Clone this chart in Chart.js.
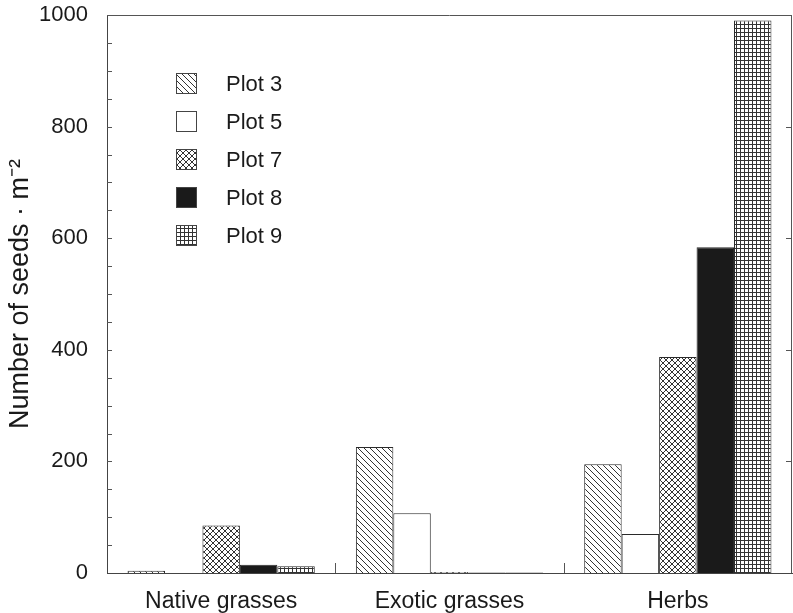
<!DOCTYPE html>
<html>
<head>
<meta charset="utf-8">
<script src="https://cdn.jsdelivr.net/npm/chart.js@4/dist/chart.umd.min.js"></script>
<style>
  html, body { margin: 0; padding: 0; background: #fff; }
  #wrap { width: 793px; height: 613px; }
</style>
</head>
<body>
<div id="wrap"><canvas id="seedChart" width="793" height="613"></canvas></div>
<script>
// Categories and series
const categories = ['Native grasses', 'Exotic grasses', 'Herbs'];
const plot3 = [4, 226, 195];
const plot5 = [0, 107, 70];
const plot7 = [85, 2, 387];
const plot8 = [15, 1, 584];
const plot9 = [12, 1, 990];
const yTicks = [0, 200, 400, 600, 800, 1000];

const INK = '#2a2a2a';
const FONT = '"Liberation Sans", Arial, sans-serif';

// Hatch patterns for the black & white fills
function makePattern(kind) {
    const c = document.createElement('canvas');
    const size = kind === 'grid' ? 4 : 6;
    c.width = size; c.height = size;
    const g = c.getContext('2d');
    g.fillStyle = '#fff';
    g.fillRect(0, 0, size, size);
    g.strokeStyle = '#333';
    g.lineWidth = 1;
    g.beginPath();
    if (kind === 'back' || kind === 'cross') {
        g.moveTo(-1, -1); g.lineTo(size + 1, size + 1);
        g.moveTo(-1, size - 1); g.lineTo(1, size + 1);
        g.moveTo(size - 1, -1); g.lineTo(size + 1, 1);
    }
    if (kind === 'cross') {
        g.moveTo(-1, size + 1); g.lineTo(size + 1, -1);
        g.moveTo(-1, 1); g.lineTo(1, -1);
        g.moveTo(size - 1, size + 1); g.lineTo(size + 1, size - 1);
    }
    if (kind === 'grid') {
        g.moveTo(0.5, 0); g.lineTo(0.5, size);
        g.moveTo(0, 0.5); g.lineTo(size, 0.5);
    }
    g.stroke();
    return g.createPattern(c, 'repeat');
}

const fills = {
    p3: makePattern('back'),
    p5: '#ffffff',
    p7: makePattern('cross'),
    p8: '#1a1a1a',
    p9: makePattern('grid')
};

function ds(label, data, fill) {
    return {
        label: label,
        data: data,
        backgroundColor: fill,
        borderColor: INK,
        borderWidth: 1,
        borderSkipped: 'bottom'
    };
}

// Frame, inward ticks, category separators and the legend inside the plot
const decorations = {
    id: 'decorations',
    afterDraw(chart) {
        const ctx = chart.ctx;
        const a = chart.chartArea;
        const y = chart.scales.y;
        const x = chart.scales.x;
        ctx.save();
        ctx.strokeStyle = '#555';
        ctx.lineWidth = 1;
        ctx.beginPath();
        ctx.moveTo(a.left, a.top + 0.5); ctx.lineTo(a.right, a.top + 0.5);
        ctx.moveTo(a.right - 0.5, a.top); ctx.lineTo(a.right - 0.5, a.bottom);
        // minor + major ticks on left axis
        for (let v = 50; v < 1000; v += 50) {
            const py = Math.round(y.getPixelForValue(v)) + 0.5;
            ctx.moveTo(a.left, py); ctx.lineTo(a.left + 5, py);
        }
        // right axis ticks
        yTicks.slice(1, -1).forEach(v => {
            const py = Math.round(y.getPixelForValue(v)) + 0.5;
            ctx.moveTo(a.right, py); ctx.lineTo(a.right - 6, py);
        });
        // category separators
        for (let i = 0; i < categories.length - 1; i++) {
            const px = Math.round(x.getPixelForValue(i + 0.5)) + 0.5;
            ctx.moveTo(px, a.bottom); ctx.lineTo(px, a.bottom - 10);
        }
        ctx.stroke();

        // legend
        const lx = 176, ly0 = 73, step = 38, box = 21;
        ctx.font = '22px ' + FONT;
        ctx.textBaseline = 'middle';
        chart.data.datasets.forEach((d, i) => {
            const top = ly0 + i * step;
            ctx.fillStyle = d.backgroundColor;
            ctx.fillRect(lx, top, box, box);
            ctx.strokeStyle = '#444';
            ctx.strokeRect(lx + 0.5, top + 0.5, box - 1, box - 1);
            ctx.fillStyle = '#1a1a1a';
            ctx.fillText(d.label, 226, top + box / 2 + 1);
        });
        ctx.restore();
    }
};

new Chart(document.getElementById('seedChart'), {
    type: 'bar',
    data: {
        labels: categories,
        datasets: [
            ds('Plot 3', plot3, fills.p3),
            ds('Plot 5', plot5, fills.p5),
            ds('Plot 7', plot7, fills.p7),
            ds('Plot 8', plot8, fills.p8),
            ds('Plot 9', plot9, fills.p9)
        ]
    },
    options: {
        responsive: false,
        animation: false,
        layout: { padding: { top: 15, right: 1, left: 0, bottom: 0 } },
        datasets: { bar: { categoryPercentage: 0.82, barPercentage: 1.0 } },
        plugins: {
            legend: { display: false },
            tooltip: { enabled: false }
        },
        scales: {
            x: {
                grid: { display: false, drawTicks: false },
                border: { display: true, color: '#444', width: 1 },
                ticks: {
                    color: '#1a1a1a',
                    padding: 15,
                    font: { family: FONT, size: 23 }
                },
                afterFit(s) { s.height = 40; s.paddingLeft = 0; s.paddingRight = 0; }
            },
            y: {
                min: 0,
                max: 1000,
                grid: { display: false, drawTicks: false },
                border: { display: true, color: '#444', width: 1 },
                afterBuildTicks(s) { s.ticks = yTicks.map(v => ({ value: v })); },
                ticks: {
                    color: '#1a1a1a',
                    padding: 19,
                    font: { family: FONT, size: 22 },
                    callback: v => String(v)
                },
                title: {
                    display: true,
                    text: 'Number of seeds · m⁻²',
                    color: '#1a1a1a',
                    padding: { top: 4, bottom: 0 },
                    font: { family: FONT, size: 27 }
                },
                afterFit(s) { s.width = 107; s.paddingTop = 0; s.paddingBottom = 0; }
            }
        }
    },
    plugins: [decorations]
});
</script>
</body>
</html>
